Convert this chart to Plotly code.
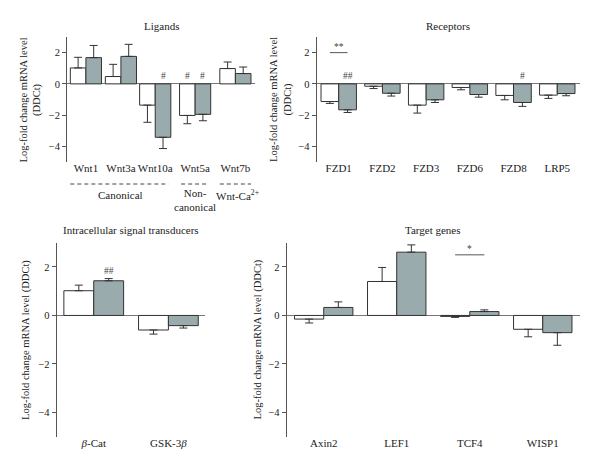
import plotly.graph_objects as go

# ---------------- data ----------------
ligands = ["Wnt1", "Wnt3a", "Wnt10a", "Wnt5a", "Wnt7b"]
lig_ctrl = [1.02, 0.47, -1.36, -2.02, 0.98]
lig_ctrl_err = [0.68, 0.78, 1.10, 0.53, 0.42]
lig_trt = [1.68, 1.76, -3.42, -1.95, 0.66]
lig_trt_err = [0.78, 0.77, 0.72, 0.41, 0.42]

receptors = ["FZD1", "FZD2", "FZD3", "FZD6", "FZD8", "LRP5"]
rec_ctrl = [-1.13, -0.15, -1.36, -0.23, -0.74, -0.72]
rec_ctrl_err = [0.12, 0.15, 0.51, 0.15, 0.28, 0.21]
rec_trt = [-1.66, -0.60, -1.02, -0.68, -1.19, -0.62]
rec_trt_err = [0.17, 0.18, 0.17, 0.17, 0.25, 0.14]

transducers = ["<i>β</i>-Cat", "GSK-3<i>β</i>"]
tr_ctrl = [1.02, -0.60]
tr_ctrl_err = [0.23, 0.17]
tr_trt = [1.43, -0.42]
tr_trt_err = [0.09, 0.10]

targets = ["Axin2", "LEF1", "TCF4", "WISP1"]
tg_ctrl = [-0.15, 1.40, -0.04, -0.57]
tg_ctrl_err = [0.16, 0.58, 0.04, 0.31]
tg_trt = [0.33, 2.61, 0.16, -0.71]
tg_trt_err = [0.23, 0.30, 0.07, 0.52]

y_ticks = [2, 0, -2, -4]

# ---------------- style / layout ----------------
W, H = 600, 474
FONT = "Liberation Serif, Times New Roman, serif"
TXT = "#222222"
GREY = "#9aabae"
EDGE = "#333333"
AX = "#555555"

# group position layout for the ligand panel (wider gaps between pathway groups)
lig_pos = [0, 1, 1.98, 3.12, 4.27]

panels = [
    dict(cats=ligands, pos=lig_pos, c=lig_ctrl, ce=lig_ctrl_err, t=lig_trt, te=lig_trt_err,
         w=0.445, xr=[-0.54, 4.83], xd=[67 / W, 255 / W], yd=[1 - 162 / H, 1 - 37 / H]),
    dict(cats=receptors, pos=list(range(len(receptors))), c=rec_ctrl, ce=rec_ctrl_err, t=rec_trt, te=rec_trt_err,
         w=0.405, xr=[-0.504, 5.52], xd=[316.7 / W, 580 / W], yd=[1 - 162 / H, 1 - 37 / H]),
    dict(cats=transducers, pos=list(range(len(transducers))), c=tr_ctrl, ce=tr_ctrl_err, t=tr_trt, te=tr_trt_err,
         w=0.40, xr=[-0.496, 1.49], xd=[56.7 / W, 205 / W], yd=[1 - 436.7 / H, 1 - 242.7 / H]),
    dict(cats=targets, pos=list(range(len(targets))), c=tg_ctrl, ce=tg_ctrl_err, t=tg_trt, te=tg_trt_err,
         w=0.40, xr=[-0.507, 3.51], xd=[286.7 / W, 580 / W], yd=[1 - 436.7 / H, 1 - 242.7 / H]),
]

fig = go.Figure()
layout = {}


def one_sided(vals, errs):
    up = [e if v >= 0 else 0 for v, e in zip(vals, errs)]
    dn = [e if v < 0 else 0 for v, e in zip(vals, errs)]
    return up, dn


for i, p in enumerate(panels):
    n = "" if i == 0 else str(i + 1)
    xa, ya = "x" + n, "y" + n
    w = p["w"]
    for vals, errs, color, sh in [(p["c"], p["ce"], "white", -0.5), (p["t"], p["te"], GREY, 0.5)]:
        up, dn = one_sided(vals, errs)
        fig.add_trace(go.Bar(
            x=[q + sh * w for q in p["pos"]], y=vals, width=w,
            marker=dict(color=color, line=dict(color=EDGE, width=1)),
            error_y=dict(type="data", symmetric=False, array=up, arrayminus=dn,
                         width=4, thickness=1, color=EDGE),
            xaxis=xa, yaxis=ya, showlegend=False, hoverinfo="skip",
        ))
    layout["xaxis" + n] = dict(
        domain=p["xd"], anchor="free", position=p["yd"][0] + 2 / H,
        range=p["xr"], tickvals=p["pos"], ticktext=p["cats"],
        showline=False, showgrid=False, zeroline=False, ticks="",
        tickfont=dict(family=FONT, size=11, color=TXT),
    )
    layout["yaxis" + n] = dict(
        domain=p["yd"], anchor=xa, range=[-5, 3], tickvals=y_ticks,
        showline=True, linecolor=AX, linewidth=1, showgrid=False,
        zeroline=True, zerolinecolor="#777777", zerolinewidth=1,
        ticks="outside", ticklen=4, tickcolor=AX,
        tickfont=dict(family=FONT, size=10.5, color=TXT),
    )

fig.update_layout(
    width=W, height=H, margin=dict(l=0, r=0, t=0, b=0),
    paper_bgcolor="white", plot_bgcolor="white", barmode="overlay",
    font=dict(family=FONT, size=10, color=TXT),
    **layout,
)

ann = []
# panel titles
for text, xc, yc in [("Ligands", 161, 26), ("Receptors", 448, 26),
                     ("Intracellular signal transducers", 131, 230), ("Target genes", 433, 230)]:
    ann.append(dict(text=text, x=xc / W, y=1 - yc / H, xref="paper", yref="paper",
                    xanchor="center", yanchor="middle",
                    showarrow=False, font=dict(size=11)))
# y-axis titles
for text, xc, yc in [("Log-fold change mRNA level<br>(DDCt)", 30.5, 100),
                     ("Log-fold change mRNA level<br>(DDCt)", 281, 100),
                     ("Log-fold change mRNA level (DDCt)", 26, 340),
                     ("Log-fold change mRNA level (DDCt)", 257.5, 340)]:
    ann.append(dict(text=text, x=xc / W, y=1 - yc / H, xref="paper", yref="paper",
                    xanchor="center", yanchor="middle",
                    showarrow=False, textangle=-90, font=dict(size=10.5)))

# significance marks (# vs control, * between groups)
w0, w1, w2, w3 = (p["w"] for p in panels)
marks = [("x", "y", lig_pos[2] + w0 / 2, 0.5, "#"),
         ("x", "y", lig_pos[3] - w0 / 2, 0.5, "#"),
         ("x", "y", lig_pos[3] + w0 / 2, 0.5, "#"),
         ("x2", "y2", 0 + w1 / 2, 0.5, "##"),
         ("x2", "y2", 4 + w1 / 2, 0.5, "#"),
         ("x3", "y3", 0 + w2 / 2, 1.83, "##"),
         ("x2", "y2", 0, 2.36, "**"),
         ("x4", "y4", 2, 2.75, "*")]
for xr, yr, xv, yv, t in marks:
    ann.append(dict(text=t, x=xv, y=yv, xref=xr, yref=yr, showarrow=False,
                    xanchor="center", yanchor="middle",
                    font=dict(size=9.5, color="#444444")))

# pathway group labels under the ligand panel
for text, xv, yc in [("Canonical", 1.0, 195), ("Non-<br>canonical", lig_pos[3], 200),
                     ("Wnt-Ca<sup>2+</sup>", lig_pos[4] + 0.05, 195)]:
    ann.append(dict(text=text, x=xv, y=1 - yc / H, xref="x", yref="paper",
                    xanchor="center", yanchor="middle",
                    showarrow=False, font=dict(size=11)))

shapes = []
for a, b in [(lig_pos[0] - w0, lig_pos[2] + w0 * 0.85), (lig_pos[3] - w0 * 0.9, lig_pos[3] + w0 * 0.9),
             (lig_pos[4] - w0, lig_pos[4] + w0)]:
    shapes.append(dict(type="line", xref="x", yref="paper", x0=a, x1=b,
                       y0=1 - 184 / H, y1=1 - 184 / H,
                       line=dict(color="#444444", width=1, dash="4px,3px")))
shapes.append(dict(type="line", xref="x2", yref="y2", x0=-w1 / 2, x1=w1 / 2, y0=2.0, y1=2.0,
                   line=dict(color="#555555", width=1)))
shapes.append(dict(type="line", xref="x4", yref="y4", x0=2 - w3 / 2, x1=2 + w3 / 2, y0=2.5, y1=2.5,
                   line=dict(color="#555555", width=1)))

fig.update_layout(annotations=ann, shapes=shapes)
fig.write_html("out.html", config={"displayModeBar": False},
               post_script="document.body.style.margin='0';document.body.style.overflow='hidden';")
